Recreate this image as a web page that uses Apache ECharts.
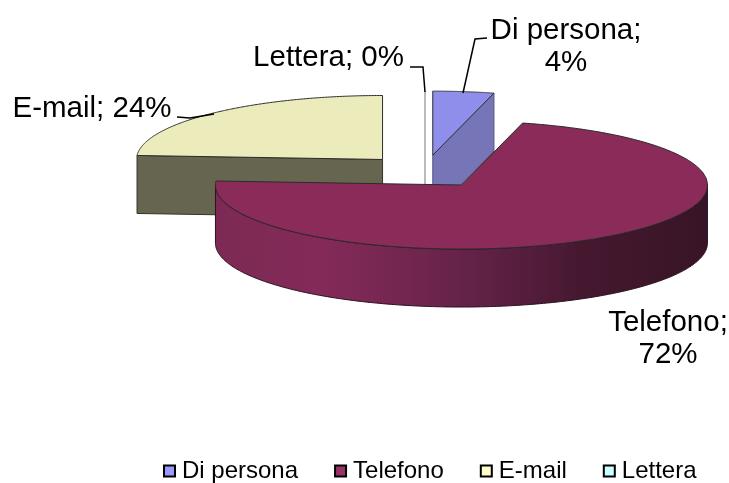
<!DOCTYPE html>
<html>
<head>
<meta charset="utf-8">
<title>Canali di contatto</title>
<script src="https://cdn.jsdelivr.net/npm/echarts@6/dist/echarts.min.js"></script>
<style>
html, body { margin: 0; padding: 0; background: #fff; }
#main { width: 729px; height: 483px; }
</style>
</head>
<body>
<div id="main"></div>
<script>
var categories = ['Di persona', 'Telefono', 'E-mail', 'Lettera'];
var values = [4, 72, 24, 0];

// colori: legenda, faccia superiore, parete
var legendColors = ['#9999FF', '#993366', '#FFFFCC', '#CCFFFF'];
var topColors = ['#8F8FEB', '#8A2B5A', '#EBEBBC', '#D0F0F0'];
var sideColors = ['#7575B8', '#7A2850', '#666650', '#8A9A9A'];

// la torta finta 3D: ellisse schiacciata con spessore
var cx = 425, cy = 171.6, rx = 246, ry = 64, depth = 58;
var explodeX = 62, explodeY = 16.6;
var fontName = 'Liberation Sans';

// etichette: centro testo e linea guida
var labelPos = {
    'Di persona': { x: 566, y: 47, br: true, line: [[463, 93], [475, 39], [487, 38]] },
    'Telefono': { x: 668, y: 339, br: true, line: null },
    'E-mail': { x: 92, y: 109, br: false, line: [[177, 117], [190, 118], [214, 114]] },
    'Lettera': { x: 328.5, y: 58, br: false, line: [[410, 67], [423, 67], [425, 92]] }
};

var total = 0;
for (var i = 0; i < values.length; i++) {
    total += values[i];
}

function rad(share) {
    return share / total * Math.PI * 2;
}

function startOf(idx) {
    var s = 0;
    for (var i = 0; i < idx; i++) {
        s += values[i];
    }
    return rad(s);
}

function rimPoint(ox, oy, a) {
    return [ox + rx * Math.sin(a), oy - ry * Math.cos(a)];
}

function renderSlice(idx) {
    return function(params, api) {
        var a0 = startOf(idx);
        var a1 = a0 + rad(api.value(0));
        var mid = (a0 + a1) / 2;
        var ox = cx + explodeX * Math.sin(mid);
        var oy = cy - explodeY * Math.cos(mid);
        var children = [];
        var top = [[ox, oy]];
        var steps = 240;
        for (var s = 0; s <= steps; s++) {
            top.push(rimPoint(ox, oy, a0 + (a1 - a0) * s / steps));
        }

        // pareti radiali rivolte verso chi guarda
        if (categories[idx] == 'Di persona') {
            var p1 = rimPoint(ox, oy, a1);
            children.push({
                type: 'polygon',
                shape: { points: [[ox, oy], p1, [p1[0], p1[1] + depth], [ox, oy + depth]] },
                style: { fill: sideColors[idx], stroke: '#55557f', lineWidth: 1 }
            });
        }
        if (categories[idx] == 'E-mail') {
            var e0 = rimPoint(ox, oy, a0);
            children.push({
                type: 'polygon',
                shape: { points: [[ox, oy], e0, [e0[0], e0[1] + depth], [ox, oy + depth]] },
                style: { fill: sideColors[idx], stroke: '#333328', lineWidth: 1 }
            });
        }

        // parete esterna (solo la meta' bassa dell'ellisse)
        var from = Math.max(a0, Math.PI / 2);
        var to = Math.min(a1, Math.PI * 1.5);
        if (to > from) {
            var outer = [];
            for (var s = 0; s <= steps; s++) {
                outer.push(rimPoint(ox, oy, from + (to - from) * s / steps));
            }
            for (var s = steps; s >= 0; s--) {
                var q = rimPoint(ox, oy, from + (to - from) * s / steps);
                outer.push([q[0], q[1] + depth]);
            }
            children.push({
                type: 'polygon',
                shape: { points: outer },
                style: {
                    fill: new echarts.graphic.LinearGradient(0, 0, 1, 0, [
                        { offset: 0, color: '#7C2A54' },
                        { offset: 0.22, color: '#842A58' },
                        { offset: 0.5, color: '#66234A' },
                        { offset: 0.75, color: '#45182F' },
                        { offset: 1, color: '#381426' }
                    ]),
                    stroke: '#2a1020',
                    lineWidth: 1
                }
            });
        }

        // faccia superiore
        if (a1 > a0) {
            children.push({
                type: 'polygon',
                shape: { points: top },
                style: { fill: topColors[idx], stroke: '#2b2b2b', lineWidth: 1 }
            });
        } else {
            // fetta da 0%: resta solo un filo
            children.push({
                type: 'line',
                shape: { x1: ox, y1: oy - ry, x2: ox, y2: oy + depth },
                style: { stroke: '#777', lineWidth: 1 }
            });
        }

        // linea guida e testo
        var lab = labelPos[categories[idx]];
        if (lab.line) {
            children.push({
                type: 'polyline',
                shape: { points: lab.line },
                style: { fill: null, stroke: '#000', lineWidth: 1.5 }
            });
        }
        children.push({
            type: 'text',
            z2: 50,
            style: {
                x: lab.x,
                y: lab.y,
                text: categories[idx] + (lab.br ? ';\n' : '; ') + api.value(0) + '%',
                fill: '#000',
                font: '29.5px "' + fontName + '"',
                lineHeight: 32,
                align: 'center',
                verticalAlign: 'middle'
            }
        });
        return { type: 'group', children: children };
    };
}

// ordine di disegno: Telefono per ultima, copre le pareti delle altre
var drawOrder = [3, 2, 0, 1];
var seriesList = [];
for (var n = 0; n < drawOrder.length; n++) {
    var k = drawOrder[n];
    seriesList.push({
        type: 'custom',
        name: categories[k],
        coordinateSystem: 'none',
        silent: true,
        z: 2 + n,
        itemStyle: { color: legendColors[k] },
        renderItem: renderSlice(k),
        data: [[values[k]]]
    });
}

var myChart = echarts.init(document.getElementById('main'), null, { renderer: 'canvas' });
var option = {
    backgroundColor: '#fff',
    animation: false,
    legend: {
        data: categories,
        left: 163,
        top: 459,
        padding: 0,
        icon: 'rect',
        itemWidth: 11,
        itemHeight: 11,
        itemGap: 36,
        itemStyle: { borderColor: '#000', borderWidth: 2 },
        textStyle: {
            color: '#000',
            fontFamily: fontName,
            fontSize: 24,
            padding: [0, 0, 0, 2]
        }
    },
    series: seriesList
};
myChart.setOption(option);
</script>
</body>
</html>
